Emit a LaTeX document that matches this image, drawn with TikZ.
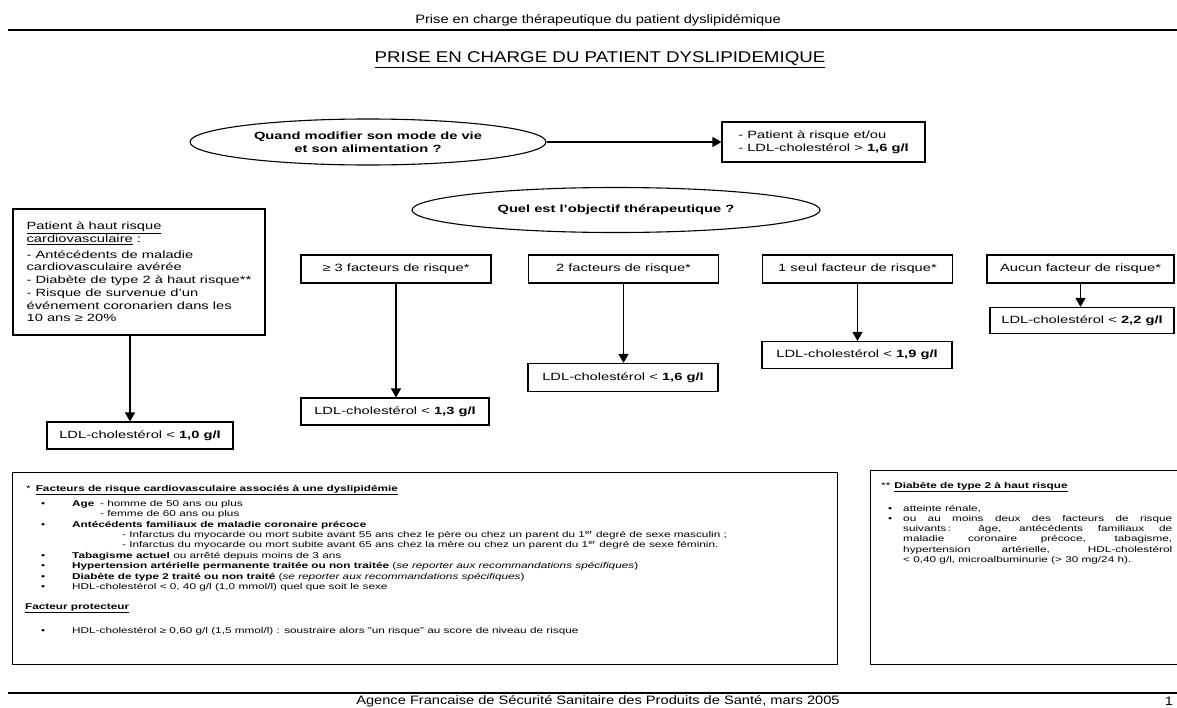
\documentclass[tikz,border=0pt]{standalone}
\usepackage{fontspec}
\setmainfont{Liberation Sans}[FakeStretch=1.4]
\newfontfamily\narrowfam{Liberation Sans}[FakeStretch=1.2]
\usetikzlibrary{arrows.meta,shapes.geometric}
\newcommand\myfs{\fontsize{10.5}{12.7}\selectfont}
\newcommand\myfsb{\fontsize{10.5}{13}\selectfont\bfseries}
\newcommand\mysm{\fontsize{8.4}{10.4}\selectfont}
\newcommand\myhdr{\narrowfam\fontsize{12.2}{14}\selectfont}
\newcommand\myttl{\narrowfam\fontsize{15.6}{18}\selectfont}
\tikzset{
  box/.style={draw, line width=1.1pt, minimum width=190pt, minimum height=28pt, inner sep=2pt, font=\myfs},
  oval/.style={draw, ellipse, line width=1.1pt, inner sep=0pt, align=center, font=\myfsb},
  arr/.style={line width=1.2pt, -{Triangle[length=9pt,width=10pt]}},
  sm/.style={anchor=base west, inner sep=0pt, font=\mysm},
  frame/.style={draw, line width=1.1pt, anchor=north west, inner sep=0pt},
  rule/.style={line width=1.8pt}
}
\begin{document}
\begin{tikzpicture}[x=1pt,y=-1pt]
\useasboundingbox (0,0) rectangle (1177,707);
\fill[white] (0,0) rectangle (1177,707);

% header
\node[font=\myhdr] (hdr) at (598,20) {Prise en charge thérapeutique du patient dyslipidémique};
\coordinate (r1a) at (8,30); \coordinate (r1b) at (1177,30);
\draw[rule] (r1a) -- (r1b);
\node[font=\myttl] (title) at (600,60) {\underline{PRISE EN CHARGE DU PATIENT DYSLIPIDEMIQUE}};

% top question
\node[oval, minimum width=356pt, minimum height=46pt] (e1) at (368,142) {Quand modifier son mode de vie\\et son alimentation ?};
\node[box, align=left, minimum width=203pt, minimum height=40pt] (pb) at (823.5,142) {- Patient à risque et/ou\\- LDL-cholestérol > \textbf{1,6 g/l}};
\draw[arr] (e1.east) -- (pb.west);

\node[oval, minimum width=408pt, minimum height=45pt] (e2) at (616,210) {Quel est l’objectif thérapeutique ?};

% left high-risk box
\node[box, align=left, minimum width=252pt, minimum height=126pt] (lb) at (139,272) {\underline{Patient à haut risque}\\
\underline{cardiovasculaire} :\\[3pt]
- Antécédents de maladie\\
cardiovasculaire avérée\\
- Diabète de type 2 à haut risque**\\
- Risque de survenue d’un\\
événement coronarien dans les\\
10 ans ≥ 20\%};
\node[box, minimum width=186pt, minimum height=27pt] (l0) at (140,435.5) {LDL-cholestérol < \textbf{1,0 g/l}};
\coordinate (a0) at ([xshift=-10pt]l0.north);
\draw[arr] (a0 |- lb.south) -- (a0);

% risk factor boxes
\node[box] (b3) at (396,269) {≥ 3 facteurs de risque*};
\node[box, minimum width=188pt, minimum height=27pt] (l13) at (395,411.5) {LDL-cholestérol < \textbf{1,3 g/l}};
\draw[arr] (b3.south) -- (b3.south |- l13.north);

\node[box] (b2) at (623.5,269) {2 facteurs de risque*};
\node[box, minimum width=190pt, minimum height=28pt] (l16) at (623,377.5) {LDL-cholestérol < \textbf{1,6 g/l}};
\draw[arr] (b2.south) -- (b2.south |- l16.north);

\node[box] (b1) at (857.5,269) {1 seul facteur de risque*};
\node[box, minimum width=190pt, minimum height=27pt] (l19) at (857,355) {LDL-cholestérol < \textbf{1,9 g/l}};
\draw[arr] (b1.south) -- (b1.south |- l19.north);

\node[box, minimum width=187pt] (b0) at (1080.5,269) {Aucun facteur de risque*};
\node[box, minimum width=184pt, minimum height=26pt] (l22) at (1082,320.5) {LDL-cholestérol < \textbf{2,2 g/l}};
\draw[arr] (b0.south) -- (b0.south |- l22.north);

% footnote box 1
\node[frame, minimum width=825pt, minimum height=192pt] (fb) at (12,472) {};
\node[sm] (f0) at (26,491) {*\hspace{5pt}\underline{\textbf{Facteurs de risque cardiovasculaire associés à une dyslipidémie}}};
\node[sm] (fd1) at (41,506) {•};
\node[sm] (f1) at (72,506) {\textbf{Age}};
\node[sm] (f1a) at (100,506) {- homme de 50 ans ou plus};
\node[sm] (f1b) at (100,516) {- femme de 60 ans ou plus};
\node[sm] (fd2) at (41,527) {•};
\node[sm] (f2) at (72,527) {\textbf{Antécédents familiaux de maladie coronaire précoce}};
\node[sm] (f2a) at (122,537) {- Infarctus du myocarde ou mort subite avant 55 ans chez le père ou chez un parent du 1\textsuperscript{er} degré de sexe masculin ;};
\node[sm] (f2b) at (122,547) {- Infarctus du myocarde ou mort subite avant 65 ans chez la mère ou chez un parent du 1\textsuperscript{er} degré de sexe féminin.};
\node[sm] (fd3) at (41,558) {•};
\node[sm] (f3) at (72,558) {\textbf{Tabagisme actuel} ou arrêté depuis moins de 3 ans};
\node[sm] (fd4) at (41,568) {•};
\node[sm] (f4) at (72,568) {\textbf{Hypertension artérielle permanente traitée ou non traitée} (\textit{se reporter aux recommandations spécifiques})};
\node[sm] (fd5) at (41,579) {•};
\node[sm] (f5) at (72,579) {\textbf{Diabète de type 2 traité ou non traité} (\textit{se reporter aux recommandations spécifiques})};
\node[sm] (fd6) at (41,589) {•};
\node[sm] (f6) at (72,589) {HDL-cholestérol < 0, 40 g/l (1,0 mmol/l) quel que soit le sexe};
\node[sm] (fp) at (25,609) {\underline{\textbf{Facteur protecteur}}};
\node[sm] (fd7) at (41,633) {•};
\node[sm] (f7) at (72,633) {HDL-cholestérol ≥ 0,60 g/l (1,5 mmol/l) : soustraire alors "un risque" au score de niveau de risque};

% footnote box 2
\node[frame, minimum width=320pt, minimum height=194pt] (rb) at (870,470) {};
\node[sm] (g0) at (881,488) {**\hspace{4pt}\underline{\textbf{Diabète de type 2 à haut risque}}};
\node[sm] (gd1) at (888,511) {•};
\node[sm] (g1) at (903,511) {atteinte rénale,};
\node[sm] (gd2) at (888,521) {•};
\node[sm, text width=269pt, align=justify] (g2) at (903,521) {ou au moins deux des facteurs de risque\linebreak
suivants\,: âge, antécédents familiaux de\linebreak
maladie coronaire précoce, tabagisme,\linebreak
hypertension artérielle, HDL-cholestérol\linebreak
< 0,40 g/l, microalbuminurie (> 30 mg/24 h).};

% footer
\coordinate (r2a) at (8,693); \coordinate (r2b) at (1177,693);
\draw[rule] (r2a) -- (r2b);
\node[font=\myhdr] (ftr) at (598,701) {Agence Francaise de Sécurité Sanitaire des Produits de Santé, mars 2005};
\node[font=\myhdr] (pg) at (1169,701) {1};
\end{tikzpicture}
\end{document}
